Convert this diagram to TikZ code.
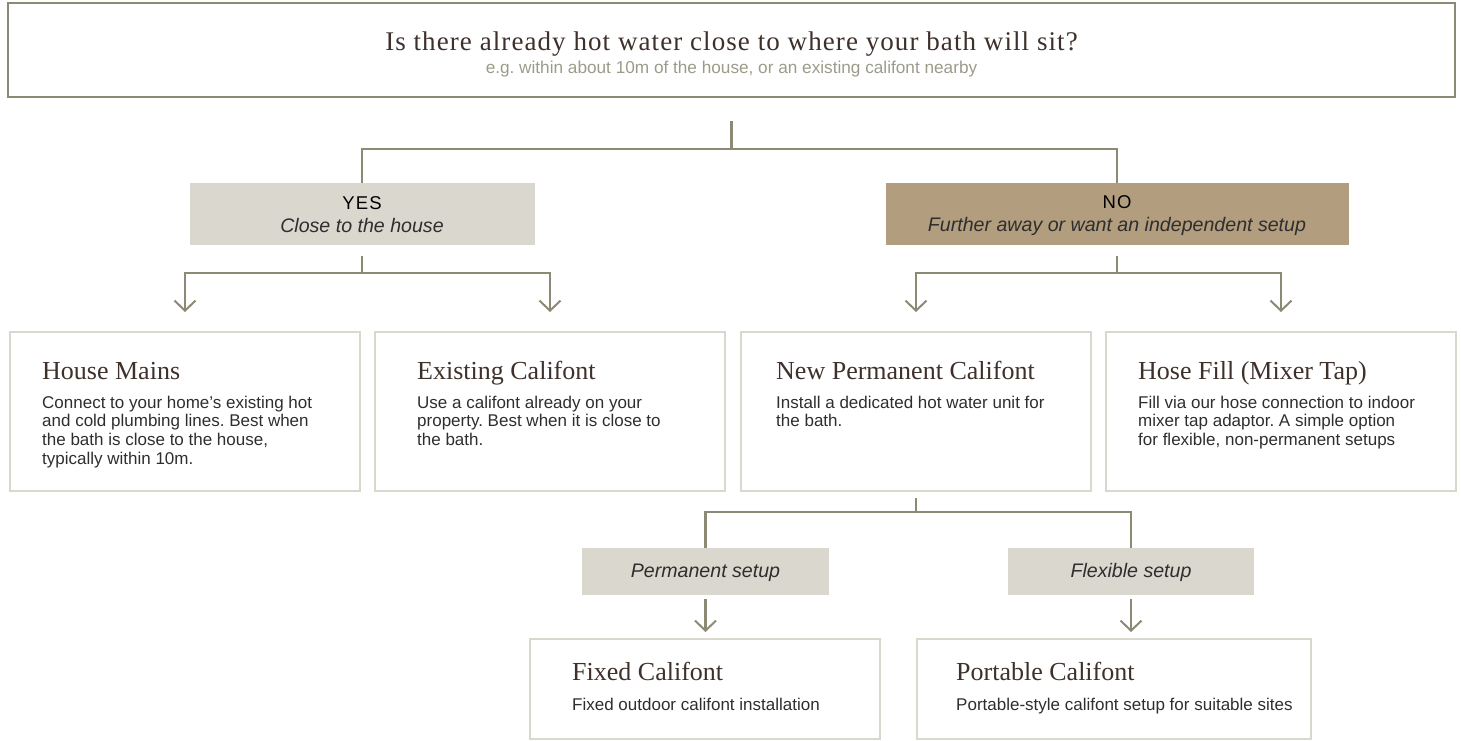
\documentclass[tikz,border=0pt]{standalone}
\usepackage{fontspec}
\setmainfont{Liberation Sans}
\newfontfamily\seriffam{Liberation Serif}
\usetikzlibrary{arrows.meta}
\frenchspacing
\definecolor{linec}{HTML}{8C8A74}
\definecolor{cardc}{HTML}{DAD7CD}
\definecolor{yesfill}{HTML}{DAD7CF}
\definecolor{nofill}{HTML}{B29D7E}
\definecolor{titlec}{HTML}{3E302B}
\definecolor{subc}{HTML}{9C9B8A}
\definecolor{bodyc}{HTML}{2E2E2E}
\begin{document}
\begin{tikzpicture}[x=1pt,y=-1pt,
  conn/.style={draw=linec,line width=2.4pt},
  arr/.style={conn,-{Straight Barb[length=10pt,width=21pt,line width=2pt]}},
  qbox/.style={draw=linec,line width=2.2pt,minimum width=1447pt,minimum height=94pt,inner sep=0pt},
  card/.style={draw=cardc,line width=2pt,minimum width=350pt,minimum height=159pt,inner sep=0pt},
  lowcard/.style={draw=cardc,line width=2pt,minimum height=100pt,inner sep=0pt},
  choice/.style={minimum height=62pt,inner sep=0pt},
  ttl/.style={font=\seriffam\fontsize{27}{30}\selectfont\addfontfeature{LetterSpace=4},text=titlec,inner sep=0pt},
  subt/.style={font=\fontsize{17.2}{20}\selectfont,text=subc,inner sep=0pt},
  ctitle/.style={font=\seriffam\fontsize{26}{30}\selectfont,text=titlec,inner sep=0pt,anchor=base west},
  body/.style={font=\fontsize{17}{18.7}\selectfont,text=bodyc,align=left,inner sep=0pt,anchor=north west},
  head/.style={font=\fontsize{18.5}{22}\selectfont\addfontfeature{LetterSpace=6},text=black,inner sep=0pt,anchor=base},
  itl/.style={font=\fontsize{19.6}{22}\selectfont\itshape,text=bodyc,inner sep=0pt,anchor=base}
]
\useasboundingbox (0,0) rectangle (1461,740);

% question
\node[qbox] (q) at (731.5,50) {};
\node[ttl,anchor=base] (qt) at (731.5,50.5) {Is there already hot water close to where your bath will sit?};
\node[subt,anchor=base] (qs) at (731.5,73) {e.g. within about 10m of the house, or an existing califont nearby};

% yes / no
\node[choice,fill=yesfill,minimum width=345pt] (yes) at (362,214) {};
\node[head] (yesh) at (362,209) {YES};
\node[itl] (yesi) at (362,232) {Close to the house};
\node[choice,fill=nofill,minimum width=463pt] (no) at (1117,214) {};
\node[head] (noh) at (1117,208) {NO};
\node[itl] (noi) at (1117,231) {Further away or want an independent setup};

\draw[conn] ([yshift=-23pt]q.south) -- ([yshift=-51pt]q.south) coordinate (jq);
\draw[conn] (yes.north) |- (jq) -| (no.north);

% cards
\node[card] (mains) at (185,411.5) {};
\node[card] (exist) at (550,411.5) {};
\node[card] (newp) at (916,411.5) {};
\node[card] (hose) at (1281,411.5) {};

\node[ctitle] (mainst) at ([xshift=33pt,yshift=-48pt]mains.north west) {House Mains};
\node[body] (mainsb) at ([xshift=33pt,yshift=-63pt]mains.north west) {\rule{0pt}{14pt}Connect to your home’s existing hot\\and cold plumbing lines. Best when\\the bath is close to the house,\\typically within 10m.};
\node[ctitle] (existt) at ([xshift=43pt,yshift=-48pt]exist.north west) {Existing Califont};
\node[body] (existb) at ([xshift=43pt,yshift=-63pt]exist.north west) {\rule{0pt}{14pt}Use a califont already on your\\property. Best when it is close to\\the bath.};
\node[ctitle] (newpt) at ([xshift=36pt,yshift=-48pt]newp.north west) {New Permanent Califont};
\node[body] (newpb) at ([xshift=36pt,yshift=-63pt]newp.north west) {\rule{0pt}{14pt}Install a dedicated hot water unit for\\the bath.};
\node[ctitle] (hoset) at ([xshift=33pt,yshift=-48pt]hose.north west) {Hose Fill (Mixer Tap)};
\node[body] (hoseb) at ([xshift=33pt,yshift=-63pt]hose.north west) {\rule{0pt}{14pt}Fill via our hose connection to indoor\\mixer tap adaptor. A simple option\\for flexible, non-permanent setups};

\draw[conn] ([yshift=-11pt]yes.south) -- ([yshift=-28pt]yes.south) coordinate (jy);
\draw[arr,shorten >=19pt] (jy) -| (mains.north);
\draw[arr,shorten >=19pt] (jy) -| (exist.north);
\draw[conn] ([yshift=-11pt]no.south) -- ([yshift=-28pt]no.south) coordinate (jn);
\draw[arr,shorten >=19pt] (jn) -| (newp.north);
\draw[arr,shorten >=19pt] (jn) -| (hose.north);

% sub choices
\node[choice,fill=yesfill,minimum width=247pt,minimum height=47pt] (perm) at (705.5,571.5) {};
\node[itl] (permt) at (705.5,577) {Permanent setup};
\node[choice,fill=yesfill,minimum width=246pt,minimum height=47pt] (flex) at (1131,571.5) {};
\node[itl] (flext) at (1131,577) {Flexible setup};

\draw[conn] ([yshift=-6pt]newp.south) -- ([yshift=-20pt]newp.south) coordinate (jp);
\draw[conn] (perm.north) |- (jp) -| (flex.north);

\node[lowcard,minimum width=350pt] (fixed) at (705,689) {};
\node[lowcard,minimum width=394pt] (port) at (1114,689) {};
\node[ctitle] (fixedt) at ([xshift=43pt,yshift=-42pt]fixed.north west) {Fixed Califont};
\node[body] (fixedb) at ([xshift=43pt,yshift=-58pt]fixed.north west) {\rule{0pt}{14pt}Fixed outdoor califont installation};
\node[ctitle] (portt) at ([xshift=40pt,yshift=-42pt]port.north west) {Portable Califont};
\node[body] (portb) at ([xshift=40pt,yshift=-58pt]port.north west) {\rule{0pt}{14pt}Portable-style califont setup for suitable sites};

\draw[arr,shorten >=6pt] ([yshift=-4pt]perm.south) -- (perm.south |- fixed.north);
\draw[arr,shorten >=6pt] ([yshift=-4pt]flex.south) -- (flex.south |- port.north);
\end{tikzpicture}
\end{document}
